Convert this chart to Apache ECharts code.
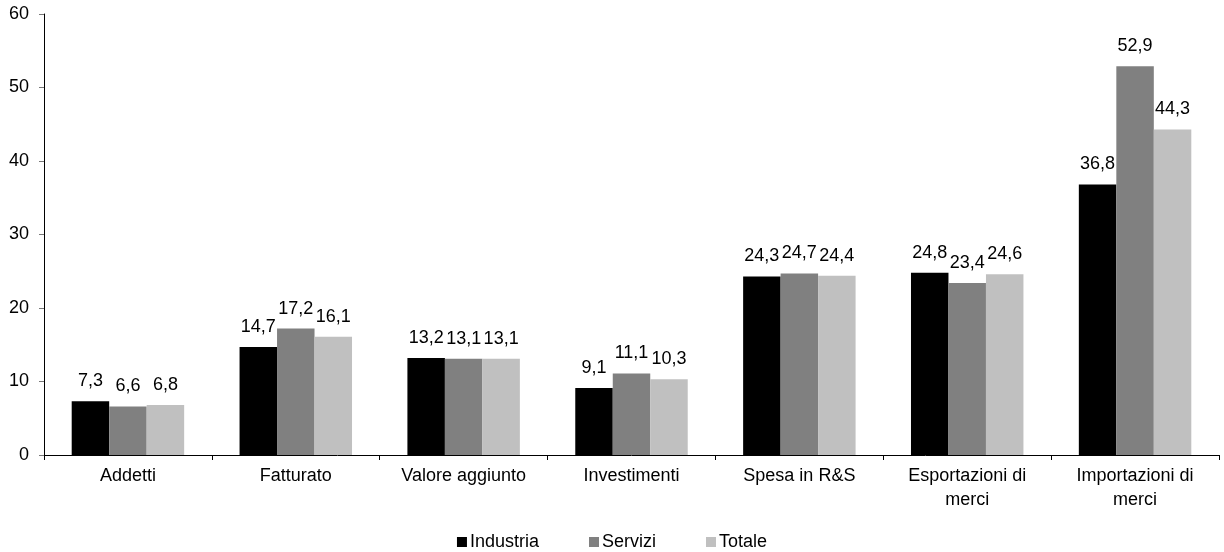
<!DOCTYPE html>
<html><head><meta charset="utf-8">
<script src="https://cdn.jsdelivr.net/npm/echarts@6/dist/echarts.min.js"></script>
<style>html,body{margin:0;padding:0;background:#fff}#c{width:1224px;height:552px}</style>
</head><body><div id="c"></div>
<script>
const categories = ["Addetti","Fatturato","Valore aggiunto","Investimenti","Spesa in R&S","Esportazioni di\nmerci","Importazioni di\nmerci"];
const industria = [7.3,14.7,13.2,9.1,24.3,24.8,36.8];
const servizi = [6.6,17.2,13.1,11.1,24.7,23.4,52.9];
const totale = [6.8,16.1,13.1,10.3,24.4,24.6,44.3];
const yTicks = [0,10,20,30,40,50,60];

const font = "Liberation Sans, Arial, sans-serif";
const lbl = {show:true, position:'top', distance:11, color:'#000', fontSize:18, fontFamily:font,
  formatter: p => p.value.toFixed(1).replace('.', ',')};
function s(name, data, color){
  return {name, type:'bar', data, itemStyle:{color}, label:lbl, barGap:'0%', barCategoryGap:'33%'};
}
const chart = echarts.init(document.getElementById('c'));
chart.setOption({
  animation:false,
  textStyle:{fontFamily:font},
  grid:{left:44, right:5, top:14, bottom:97},
  legend:{bottom:-4, left:'center', itemWidth:10, itemHeight:10, itemGap:50,
    icon:'rect', textStyle:{fontSize:18, color:'#000', fontFamily:font, padding:[0,0,0,-2]},
    data:['Industria','Servizi','Totale']},
  xAxis:{type:'category', data:categories,
    axisLine:{lineStyle:{color:'#000', width:1}},
    axisTick:{show:true, length:5, lineStyle:{color:'#000'}},
    axisLabel:{color:'#000', fontSize:18, fontFamily:font, margin:9, lineHeight:24}},
  yAxis:{type:'value', min:yTicks[0], max:yTicks[yTicks.length-1], interval:10,
    splitLine:{show:false},
    axisLine:{show:true, lineStyle:{color:'#000', width:1}},
    axisTick:{show:true, length:5, lineStyle:{color:'#777'}},
    axisLabel:{color:'#000', fontSize:18, fontFamily:font, margin:15}},
  series:[s('Industria', industria, '#000000'), s('Servizi', servizi, '#808080'), s('Totale', totale, '#c0c0c0')]
});
</script></body></html>
